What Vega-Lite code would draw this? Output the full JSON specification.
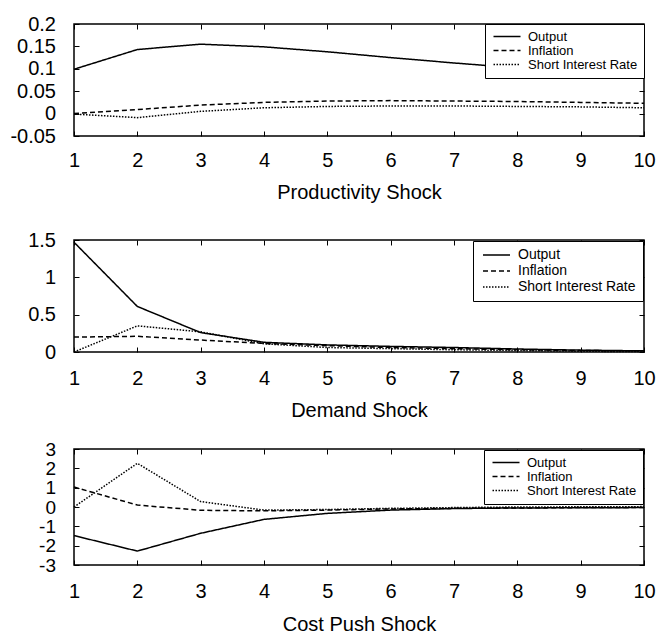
{
  "$schema": "https://vega.github.io/schema/vega-lite/v6.json",
  "padding": {"left": 9, "top": 13, "right": 0, "bottom": 0},
  "background": "white",
  "spacing": 18,
  "config": {
    "font": "Liberation Sans",
    "view": {"stroke": "black", "strokeWidth": 1.5},
    "axis": {
      "domain": false, "grid": false, "tickColor": "black", "tickSize": -5, "tickWidth": 1,
      "labelFont": "Liberation Sans", "labelFontSize": 20, "labelColor": "black",
      "labelFlush": false, "labelOverlap": false,
      "titleFont": "Liberation Sans", "titleFontSize": 20, "titleFontWeight": "normal", "titleColor": "black"
    },
    "legend": {
      "title": null, "orient": "top-right", "offset": 0, "strokeColor": "black", "fillColor": "white",
      "padding": 6, "labelFont": "Liberation Sans", "labelFontSize": 13, "labelColor": "black",
      "symbolType": "M-1,0H5.75", "symbolSize": 64, "symbolStrokeWidth": 1.5, "symbolStrokeColor": "black",
      "rowPadding": -4, "labelOffset": 24, "cornerRadius": 0
    }
  },
  "datasets": {
    "irf": [
      {"p": "P", "s": "Output", "t": 1, "v": 0.099}, {"p": "P", "s": "Output", "t": 2, "v": 0.143}, {"p": "P", "s": "Output", "t": 3, "v": 0.155}, {"p": "P", "s": "Output", "t": 4, "v": 0.149}, {"p": "P", "s": "Output", "t": 5, "v": 0.138}, {"p": "P", "s": "Output", "t": 6, "v": 0.125}, {"p": "P", "s": "Output", "t": 7, "v": 0.113}, {"p": "P", "s": "Output", "t": 8, "v": 0.102}, {"p": "P", "s": "Output", "t": 9, "v": 0.091}, {"p": "P", "s": "Output", "t": 10, "v": 0.079},
      {"p": "P", "s": "Inflation", "t": 1, "v": 0.0}, {"p": "P", "s": "Inflation", "t": 2, "v": 0.009}, {"p": "P", "s": "Inflation", "t": 3, "v": 0.019}, {"p": "P", "s": "Inflation", "t": 4, "v": 0.025}, {"p": "P", "s": "Inflation", "t": 5, "v": 0.028}, {"p": "P", "s": "Inflation", "t": 6, "v": 0.029}, {"p": "P", "s": "Inflation", "t": 7, "v": 0.028}, {"p": "P", "s": "Inflation", "t": 8, "v": 0.027}, {"p": "P", "s": "Inflation", "t": 9, "v": 0.025}, {"p": "P", "s": "Inflation", "t": 10, "v": 0.023},
      {"p": "P", "s": "Short Interest Rate", "t": 1, "v": -0.001}, {"p": "P", "s": "Short Interest Rate", "t": 2, "v": -0.009}, {"p": "P", "s": "Short Interest Rate", "t": 3, "v": 0.005}, {"p": "P", "s": "Short Interest Rate", "t": 4, "v": 0.013}, {"p": "P", "s": "Short Interest Rate", "t": 5, "v": 0.016}, {"p": "P", "s": "Short Interest Rate", "t": 6, "v": 0.017}, {"p": "P", "s": "Short Interest Rate", "t": 7, "v": 0.017}, {"p": "P", "s": "Short Interest Rate", "t": 8, "v": 0.016}, {"p": "P", "s": "Short Interest Rate", "t": 9, "v": 0.015}, {"p": "P", "s": "Short Interest Rate", "t": 10, "v": 0.013},
      {"p": "D", "s": "Output", "t": 1, "v": 1.47}, {"p": "D", "s": "Output", "t": 2, "v": 0.61}, {"p": "D", "s": "Output", "t": 3, "v": 0.26}, {"p": "D", "s": "Output", "t": 4, "v": 0.13}, {"p": "D", "s": "Output", "t": 5, "v": 0.095}, {"p": "D", "s": "Output", "t": 6, "v": 0.075}, {"p": "D", "s": "Output", "t": 7, "v": 0.06}, {"p": "D", "s": "Output", "t": 8, "v": 0.04}, {"p": "D", "s": "Output", "t": 9, "v": 0.025}, {"p": "D", "s": "Output", "t": 10, "v": 0.015},
      {"p": "D", "s": "Inflation", "t": 1, "v": 0.2}, {"p": "D", "s": "Inflation", "t": 2, "v": 0.21}, {"p": "D", "s": "Inflation", "t": 3, "v": 0.16}, {"p": "D", "s": "Inflation", "t": 4, "v": 0.115}, {"p": "D", "s": "Inflation", "t": 5, "v": 0.085}, {"p": "D", "s": "Inflation", "t": 6, "v": 0.06}, {"p": "D", "s": "Inflation", "t": 7, "v": 0.045}, {"p": "D", "s": "Inflation", "t": 8, "v": 0.03}, {"p": "D", "s": "Inflation", "t": 9, "v": 0.02}, {"p": "D", "s": "Inflation", "t": 10, "v": 0.015},
      {"p": "D", "s": "Short Interest Rate", "t": 1, "v": 0.0}, {"p": "D", "s": "Short Interest Rate", "t": 2, "v": 0.35}, {"p": "D", "s": "Short Interest Rate", "t": 3, "v": 0.27}, {"p": "D", "s": "Short Interest Rate", "t": 4, "v": 0.11}, {"p": "D", "s": "Short Interest Rate", "t": 5, "v": 0.06}, {"p": "D", "s": "Short Interest Rate", "t": 6, "v": 0.045}, {"p": "D", "s": "Short Interest Rate", "t": 7, "v": 0.03}, {"p": "D", "s": "Short Interest Rate", "t": 8, "v": 0.02}, {"p": "D", "s": "Short Interest Rate", "t": 9, "v": 0.01}, {"p": "D", "s": "Short Interest Rate", "t": 10, "v": 0.005},
      {"p": "C", "s": "Output", "t": 1, "v": -1.48}, {"p": "C", "s": "Output", "t": 2, "v": -2.28}, {"p": "C", "s": "Output", "t": 3, "v": -1.36}, {"p": "C", "s": "Output", "t": 4, "v": -0.64}, {"p": "C", "s": "Output", "t": 5, "v": -0.33}, {"p": "C", "s": "Output", "t": 6, "v": -0.16}, {"p": "C", "s": "Output", "t": 7, "v": -0.08}, {"p": "C", "s": "Output", "t": 8, "v": -0.05}, {"p": "C", "s": "Output", "t": 9, "v": -0.04}, {"p": "C", "s": "Output", "t": 10, "v": -0.03},
      {"p": "C", "s": "Inflation", "t": 1, "v": 1.03}, {"p": "C", "s": "Inflation", "t": 2, "v": 0.1}, {"p": "C", "s": "Inflation", "t": 3, "v": -0.17}, {"p": "C", "s": "Inflation", "t": 4, "v": -0.2}, {"p": "C", "s": "Inflation", "t": 5, "v": -0.16}, {"p": "C", "s": "Inflation", "t": 6, "v": -0.1}, {"p": "C", "s": "Inflation", "t": 7, "v": -0.07}, {"p": "C", "s": "Inflation", "t": 8, "v": -0.05}, {"p": "C", "s": "Inflation", "t": 9, "v": -0.03}, {"p": "C", "s": "Inflation", "t": 10, "v": -0.02},
      {"p": "C", "s": "Short Interest Rate", "t": 1, "v": 0.0}, {"p": "C", "s": "Short Interest Rate", "t": 2, "v": 2.26}, {"p": "C", "s": "Short Interest Rate", "t": 3, "v": 0.28}, {"p": "C", "s": "Short Interest Rate", "t": 4, "v": -0.16}, {"p": "C", "s": "Short Interest Rate", "t": 5, "v": -0.13}, {"p": "C", "s": "Short Interest Rate", "t": 6, "v": -0.07}, {"p": "C", "s": "Short Interest Rate", "t": 7, "v": -0.03}, {"p": "C", "s": "Short Interest Rate", "t": 8, "v": 0.0}, {"p": "C", "s": "Short Interest Rate", "t": 9, "v": 0.01}, {"p": "C", "s": "Short Interest Rate", "t": 10, "v": 0.02}
    ]
  },
  "resolve": {"scale": {"strokeDash": "independent"}, "legend": {"strokeDash": "independent"}},
  "vconcat": [
    {
      "width": 570, "height": 112,
      "data": {"name": "irf"},
      "transform": [{"filter": "datum.p == 'P'"}],
      "layer": [
        {
          "mark": {"type": "line", "color": "black", "strokeWidth": 1.5},
          "encoding": {
            "x": {"field": "t", "type": "quantitative", "scale": {"domain": [1, 10], "nice": false, "zero": false},
                  "axis": {"values": [1, 2, 3, 4, 5, 6, 7, 8, 9, 10], "title": "Productivity Shock", "labelPadding": 19.5, "titlePadding": 12, "labelExpr": "'' + datum.value"}},
            "y": {"field": "v", "type": "quantitative", "scale": {"domain": [-0.05, 0.2], "nice": false, "zero": false},
                  "axis": {"values": [-0.05, 0, 0.05, 0.1, 0.15, 0.2], "title": null, "labelPadding": 23.5, "labelExpr": "'' + datum.value"}},
            "strokeDash": {"field": "s", "type": "nominal", "sort": ["Output", "Inflation", "Short Interest Rate"],
                           "scale": {"domain": ["Output", "Inflation", "Short Interest Rate"], "range": [[1, 0], [5, 3], [1.5, 1.5]]},
                           "legend": {"rowPadding": -6, "labelFontSize": 13}}
          }
        },
        {
          "mark": {"type": "line", "strokeOpacity": 0},
          "encoding": {
            "x": {"field": "t", "type": "quantitative", "axis": {"orient": "top", "labels": false, "title": null, "values": [1, 2, 3, 4, 5, 6, 7, 8, 9, 10]}},
            "y": {"field": "v", "type": "quantitative", "axis": {"orient": "right", "labels": false, "title": null, "values": [-0.05, 0, 0.05, 0.1, 0.15, 0.2]}},
            "detail": {"field": "s"}
          }
        }
      ],
      "resolve": {"axis": {"x": "independent", "y": "independent"}}
    },
    {
      "width": 570, "height": 112,
      "data": {"name": "irf"},
      "transform": [{"filter": "datum.p == 'D'"}],
      "layer": [
        {
          "mark": {"type": "line", "color": "black", "strokeWidth": 1.5},
          "encoding": {
            "x": {"field": "t", "type": "quantitative", "scale": {"domain": [1, 10], "nice": false, "zero": false},
                  "axis": {"values": [1, 2, 3, 4, 5, 6, 7, 8, 9, 10], "title": "Demand Shock", "labelPadding": 21, "titlePadding": 12, "labelExpr": "'' + datum.value"}},
            "y": {"field": "v", "type": "quantitative", "scale": {"domain": [0, 1.5], "nice": false, "zero": false},
                  "axis": {"values": [0, 0.5, 1, 1.5], "title": null, "labelPadding": 23.5, "labelExpr": "'' + datum.value"}},
            "strokeDash": {"field": "s", "type": "nominal", "sort": ["Output", "Inflation", "Short Interest Rate"],
                           "scale": {"domain": ["Output", "Inflation", "Short Interest Rate"], "range": [[1, 0], [5, 3], [1.5, 1.5]]},
                           "legend": {"rowPadding": 2, "labelFontSize": 14, "padding": 7, "offset": 1}}
          }
        },
        {
          "mark": {"type": "line", "strokeOpacity": 0},
          "encoding": {
            "x": {"field": "t", "type": "quantitative", "axis": {"orient": "top", "labels": false, "title": " ", "titleFontSize": 1, "titlePadding": 15, "values": [1, 2, 3, 4, 5, 6, 7, 8, 9, 10]}},
            "y": {"field": "v", "type": "quantitative", "axis": {"orient": "right", "labels": false, "title": null, "values": [0, 0.5, 1, 1.5]}},
            "detail": {"field": "s"}
          }
        }
      ],
      "resolve": {"axis": {"x": "independent", "y": "independent"}}
    },
    {
      "width": 570, "height": 116,
      "data": {"name": "irf"},
      "transform": [{"filter": "datum.p == 'C'"}],
      "layer": [
        {
          "mark": {"type": "line", "color": "black", "strokeWidth": 1.5},
          "encoding": {
            "x": {"field": "t", "type": "quantitative", "scale": {"domain": [1, 10], "nice": false, "zero": false},
                  "axis": {"values": [1, 2, 3, 4, 5, 6, 7, 8, 9, 10], "title": "Cost Push Shock", "labelPadding": 21, "titlePadding": 13, "labelExpr": "'' + datum.value"}},
            "y": {"field": "v", "type": "quantitative", "scale": {"domain": [-3, 3], "nice": false, "zero": false},
                  "axis": {"values": [-3, -2, -1, 0, 1, 2, 3], "title": null, "labelPadding": 23.5, "labelFontSize": 19, "labelExpr": "'' + datum.value"}},
            "strokeDash": {"field": "s", "type": "nominal", "sort": ["Output", "Inflation", "Short Interest Rate"],
                           "scale": {"domain": ["Output", "Inflation", "Short Interest Rate"], "range": [[1, 0], [5, 3], [1.5, 1.5]]},
                           "legend": {"rowPadding": -6, "labelFontSize": 13, "offset": 1}}
          }
        },
        {
          "mark": {"type": "line", "strokeOpacity": 0},
          "encoding": {
            "x": {"field": "t", "type": "quantitative", "axis": {"orient": "top", "labels": false, "title": null, "values": [1, 2, 3, 4, 5, 6, 7, 8, 9, 10]}},
            "y": {"field": "v", "type": "quantitative", "axis": {"orient": "right", "labels": false, "title": null, "values": [-3, -2, -1, 0, 1, 2, 3]}},
            "detail": {"field": "s"}
          }
        }
      ],
      "resolve": {"axis": {"x": "independent", "y": "independent"}}
    }
  ]
}
